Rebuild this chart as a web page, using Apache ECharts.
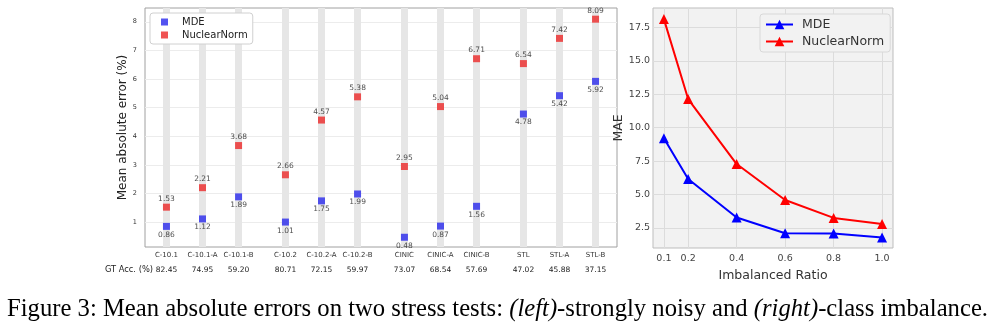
<!DOCTYPE html>
<html>
<head>
<meta charset="utf-8">
<script src="https://cdn.jsdelivr.net/npm/echarts@6/dist/echarts.min.js"></script>
<style>
html,body{margin:0;padding:0;background:#fff;}
#chart{width:994px;height:326px;}
</style>
</head>
<body>
<div id="chart"></div>
<script>
// ---------------- data ----------------
const categories = ['C-10.1','C-10.1-A','C-10.1-B','C-10.2','C-10.2-A','C-10.2-B','CINIC','CINIC-A','CINIC-B','STL','STL-A','STL-B'];
const gtAcc = [82.45, 74.95, 59.20, 80.71, 72.15, 59.97, 73.07, 68.54, 57.69, 47.02, 45.88, 37.15];
const mdeError = [0.86, 1.12, 1.89, 1.01, 1.75, 1.99, 0.48, 0.87, 1.56, 4.78, 5.42, 5.92];
const nuclearError = [1.53, 2.21, 3.68, 2.66, 4.57, 5.38, 2.95, 5.04, 6.71, 6.54, 7.42, 8.09];
const leftYTicks = [1, 2, 3, 4, 5, 6, 7, 8];

const ratios = [0.1, 0.2, 0.4, 0.6, 0.8, 1.0];
const mdeMAE = [9.2, 6.16, 3.28, 2.1, 2.08, 1.78];
const nuclearMAE = [18.12, 12.14, 7.28, 4.59, 3.25, 2.8];
const rightYTicks = [2.5, 5.0, 7.5, 10.0, 12.5, 15.0, 17.5];

// ---------------- layout helpers ----------------
const groupSize = 3, groupGap = 0.3;
const positions = categories.map((c, i) => i + groupGap * Math.floor(i / groupSize));
const idxOf = v => positions.findIndex(p => Math.abs(p - v) < 1e-6);

const RED = 'rgb(236,40,40)', BLUE = 'rgb(40,40,236)';

const chart = echarts.init(document.getElementById('chart'), null, {renderer: 'canvas'});

// caption measurement
const capFont = 'Liberation Serif';
const capSize = 22;
const mctx = document.createElement('canvas').getContext('2d');
function w(t, it) { mctx.font = (it ? 'italic ' : '') + capSize + 'px "' + capFont + '"'; return mctx.measureText(t).width; }
const capParts = [['Figure 3: Mean absolute errors on two stress tests: ', 0], ['(left)', 1], ['-strongly noisy and ', 0], ['(right)', 1], ['-class imbalance.', 0]];
const capW = capParts.reduce((s, p) => s + w(p[0], p[1]), 0);
const capText = capParts.map(p => p[1] ? '{i|' + p[0] + '}' : '{n|' + p[0] + '}').join('');

const option = {
  animation: false,
  backgroundColor: '#fff',
  grid: [
    {left: 145, top: 8, width: 472, height: 239, show: true, borderColor: '#a0a0a0', borderWidth: 1, backgroundColor: '#fff'},
    {left: 653, top: 8, width: 240, height: 240, show: true, borderColor: '#bdbdbd', borderWidth: 1, backgroundColor: '#f2f2f2'}
  ],
  xAxis: [
    {
      type: 'value', gridIndex: 0, min: -0.595, max: 12.495,
      axisLine: {show: false}, axisTick: {show: false, customValues: positions},
      splitLine: {show: false},
      axisLabel: {
        customValues: positions, margin: 1,
        formatter: v => { const i = idxOf(v); return i < 0 ? '' : '{a|' + categories[i] + '}\n{b|' + gtAcc[i].toFixed(2) + '}'; },
        rich: {
          a: {fontSize: 7, fontFamily: 'DejaVu Sans', color: '#333', lineHeight: 15},
          b: {fontSize: 7.5, fontFamily: 'DejaVu Sans', color: '#222', lineHeight: 15}
        }
      }
    },
    {
      type: 'value', gridIndex: 1, min: 0.055, max: 1.045,
      axisLine: {show: false}, axisTick: {show: false, customValues: ratios},
      splitLine: {show: true, lineStyle: {color: '#dcdcdc', width: 1}},
      axisLabel: {customValues: ratios, margin: 6, fontSize: 9.5, fontFamily: 'DejaVu Sans', color: '#444', formatter: v => v.toFixed(1)},
      name: 'Imbalanced Ratio', nameLocation: 'middle', nameGap: 18,
      nameTextStyle: {fontSize: 12.5, fontFamily: 'DejaVu Sans', color: '#333'}
    }
  ],
  yAxis: [
    {
      type: 'value', gridIndex: 0, min: 0.14, max: 8.48,
      axisLine: {show: false}, axisTick: {show: false, customValues: leftYTicks},
      splitLine: {show: true, lineStyle: {color: '#ececec', width: 1}},
      axisLabel: {customValues: leftYTicks, margin: 8, fontSize: 6.5, fontFamily: 'DejaVu Sans', color: '#333'},
      name: 'Mean absolute error (%)', nameLocation: 'middle', nameGap: 12, nameRotate: 90,
      nameTextStyle: {fontSize: 12, fontFamily: 'DejaVu Sans', color: '#222'}
    },
    {
      type: 'value', gridIndex: 1, min: 1.0, max: 18.95,
      axisLine: {show: false}, axisTick: {show: false, customValues: rightYTicks},
      splitLine: {show: true, lineStyle: {color: '#dcdcdc', width: 1}},
      axisLabel: {customValues: rightYTicks, margin: 3, fontSize: 9.5, fontFamily: 'DejaVu Sans', color: '#444', formatter: v => v.toFixed(1)},
      name: 'MAE', nameLocation: 'middle', nameGap: 17, nameRotate: 90,
      nameTextStyle: {fontSize: 12.5, fontFamily: 'DejaVu Sans', color: '#333'}
    }
  ],
  legend: [
    {
      left: 150, top: 13, orient: 'vertical', itemGap: 3, itemWidth: 7, itemHeight: 7, z: 6,
      padding: [4, 5, 4, 11], backgroundColor: '#fff', borderColor: '#d0d0d0', borderWidth: 1, borderRadius: 3,
      data: [{name: 'MDE', icon: 'rect'}, {name: 'NuclearNorm', icon: 'rect'}],
      textStyle: {fontSize: 10, fontFamily: 'DejaVu Sans', color: '#222', padding: [0, 0, 0, 9]}
    },
    {
      left: 760, top: 14, orient: 'vertical', itemGap: 4, itemWidth: 27, itemHeight: 12, z: 6,
      padding: [4, 6, 4, 5], backgroundColor: '#f2f2f2', borderColor: '#d8d8d8', borderWidth: 1, borderRadius: 3,
      data: ['MDE ', 'NuclearNorm '],
      formatter: n => n.trim(),
      textStyle: {fontSize: 12.5, fontFamily: 'DejaVu Sans', color: '#333', padding: [0, 0, 0, 4]}
    }
  ],
  series: [
    {
      type: 'scatter', name: 'stripes', xAxisIndex: 0, yAxisIndex: 0, data: [], z: 1, silent: true,
      markLine: {
        silent: true, z: 1, symbol: ['none', 'none'], label: {show: false},
        lineStyle: {color: '#e6e6e6', width: 7, type: 'solid'},
        emphasis: {disabled: true},
        data: positions.map(p => ({xAxis: p}))
      }
    },
    {
      type: 'scatter', name: 'MDE', xAxisIndex: 0, yAxisIndex: 0, z: 3,
      symbol: 'rect', symbolSize: 7, itemStyle: {color: BLUE},
      data: mdeError.map((v, i) => [positions[i], v]),
      label: {show: true, position: 'bottom', distance: 1, fontSize: 7.5, fontFamily: 'DejaVu Sans', color: '#222', formatter: p => p.value[1].toFixed(2)}
    },
    {
      type: 'scatter', name: 'NuclearNorm', xAxisIndex: 0, yAxisIndex: 0, z: 3,
      symbol: 'rect', symbolSize: 7, itemStyle: {color: RED},
      data: nuclearError.map((v, i) => [positions[i], v]),
      label: {show: true, position: 'top', distance: 1, fontSize: 7.5, fontFamily: 'DejaVu Sans', color: '#222', formatter: p => p.value[1].toFixed(2)}
    },
    {
      type: 'line', name: 'MDE ', xAxisIndex: 1, yAxisIndex: 1,
      symbol: 'triangle', symbolSize: 10, color: '#0000ff',
      lineStyle: {width: 2, color: '#0000ff'}, itemStyle: {color: '#0000ff'},
      data: mdeMAE.map((v, i) => [ratios[i], v])
    },
    {
      type: 'line', name: 'NuclearNorm ', xAxisIndex: 1, yAxisIndex: 1,
      symbol: 'triangle', symbolSize: 10, color: '#ff0000',
      lineStyle: {width: 2, color: '#ff0000'}, itemStyle: {color: '#ff0000'},
      data: nuclearMAE.map((v, i) => [ratios[i], v])
    }
  ],
  graphic: [
    {
      type: 'text', x: 153, y: 270,
      style: {text: 'GT Acc. (%)', fontSize: 8.3, fontFamily: 'DejaVu Sans', fill: '#222', align: 'right', verticalAlign: 'middle'}
    },
    {
      type: 'text', x: 7, y: 309, scaleX: 981 / capW, scaleY: 25.5 / capSize,
      style: {
        text: capText, align: 'left', verticalAlign: 'middle', fill: '#000',
        fontFamily: capFont, fontSize: capSize,
        rich: {
          n: {fontFamily: capFont, fontSize: capSize, fill: '#000'},
          i: {fontFamily: capFont, fontSize: capSize, fontStyle: 'italic', fill: '#000'}
        }
      }
    }
  ]
};
chart.setOption(option);
</script>
</body>
</html>
